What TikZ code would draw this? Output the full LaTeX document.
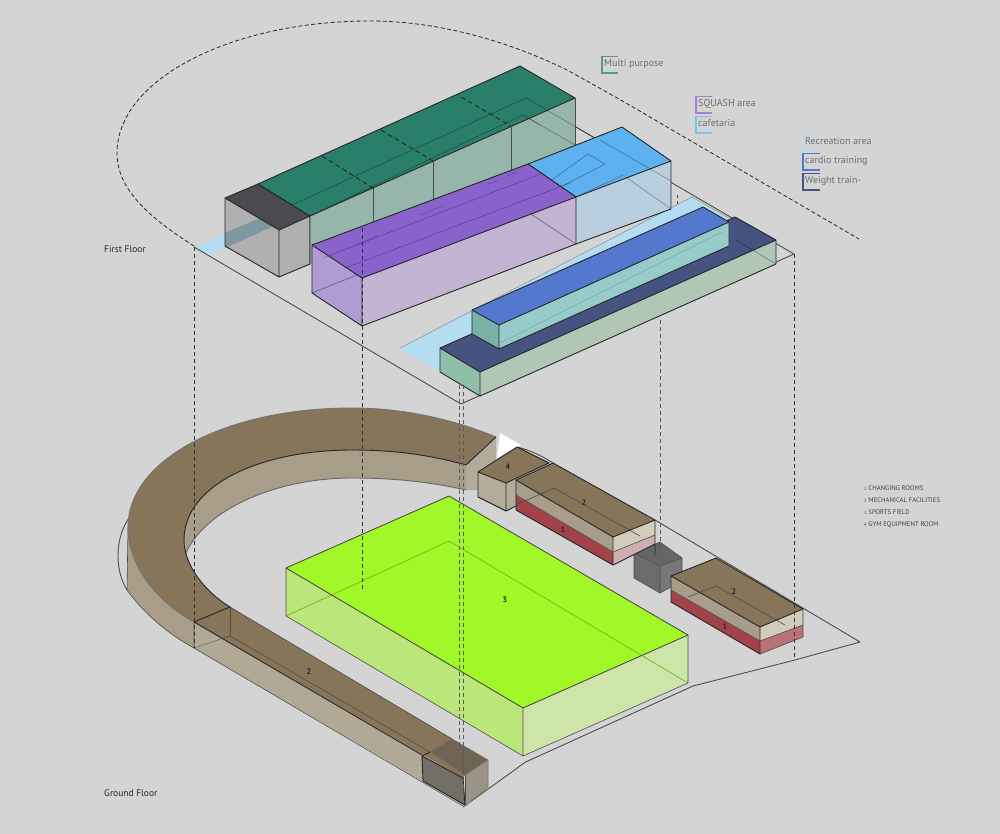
\documentclass[tikz,border=0pt]{standalone}
\usepackage{fontspec}
\setmainfont{PT Sans}
\definecolor{bgc}{HTML}{D4D4D4}
\definecolor{tan}{HTML}{87755A}
\definecolor{wall}{HTML}{A79D88}
\definecolor{paletan}{HTML}{D2CCBD}
\definecolor{redc}{HTML}{A2424A}
\definecolor{pinkc}{HTML}{CFAEAF}
\definecolor{lime}{HTML}{A2F728}
\definecolor{limeL}{HTML}{BBE67A}
\definecolor{limeR}{HTML}{CDE5A8}
\definecolor{teal}{HTML}{2A7F6B}
\definecolor{tealS}{HTML}{97B6AB}
\definecolor{darkT}{HTML}{4A4A50}
\definecolor{greyS}{HTML}{ADADAD}
\definecolor{purp}{HTML}{8A62CC}
\definecolor{purpL}{HTML}{B09BD2}
\definecolor{purpR}{HTML}{C2B4D2}
\definecolor{sky}{HTML}{5DB1EE}
\definecolor{skyS}{HTML}{B9CFE0}
\definecolor{ice}{HTML}{B4DDF2}
\definecolor{bar}{HTML}{5578CF}
\definecolor{barS}{HTML}{97CBCA}
\definecolor{barL}{HTML}{79B1A6}
\definecolor{navy}{HTML}{465380}
\definecolor{navyS}{HTML}{B0C7B6}
\definecolor{navyL}{HTML}{8FBFA8}
\definecolor{labc}{HTML}{6E6E6E}
\tikzset{
  edge/.style={draw=black!85,line width=.9pt,line join=round},
  thin edge/.style={draw=black!70,line width=.6pt,line join=round},
  faint/.style={draw=black,draw opacity=.35,line width=.6pt},
  plate/.style={draw=black!70,line width=.9pt,line join=round},
  proj/.style={draw=black!80,line width=.8pt,dash pattern=on 4pt off 3pt},
  lab/.style={inner sep=0pt,anchor=west,text=labc,font=\fontsize{10}{12}\selectfont},
  floorlab/.style={inner sep=0pt,anchor=west,text=black!85,font=\fontsize{9.5}{11}\selectfont},
  key/.style={inner sep=0pt,anchor=west,text=black!75,font=\fontsize{6.7}{8}\selectfont},
  num/.style={inner sep=0pt,text=black!85,font=\bfseries\fontsize{8}{9}\selectfont},
  brk/.style={line width=1.1pt}
}
\begin{document}
\begin{tikzpicture}[x=1pt,y=-1pt]
\useasboundingbox (0,0) rectangle (1000,834);
\fill[bgc] (0,0) rectangle (1000,834);

% big dashed outline
\draw[draw=black!85,line width=.8pt,dash pattern=on 4pt off 2.5pt]
  (194,246) .. controls (150,218) and (117,190) .. (117,153)
  .. controls (117,80) and (230,21) .. (370,21)
  .. controls (440,21) and (510,42) .. (567,70)
  .. controls (600,88) and (640,111) .. (667,127) -- (859,239);

% ---------- ground plate
\draw[plate] (131,515) .. controls (120,530) and (118,545) .. (118,556)
  .. controls (118,570) and (122,582) .. (127,590);
\draw[plate] (463,807) -- (516,769) .. controls (521,765) and (525,762) .. (530,760)
  -- (693,686) -- (795,660) -- (860,642) -- (655,520);
\draw[plate] (517,447) .. controls (530,450) and (542,456) .. (553,463);
\fill[white] (500,433) -- (521,445) -- (497,458) -- cycle;

% ---------- ring
\coordinate (ra) at (194,622);
\coordinate (rb) at (230,607);
\fill[wall] (466,465) .. controls (430,455) and (395,450) .. (352,450)
  .. controls (260,450) and (184,485) .. (184,540)
  -- (186,553) .. controls (205,510) and (275,478) .. (352,478)
  .. controls (395,478) and (430,482) .. (466,490) -- cycle;
\draw[draw=black!60,line width=.9pt] (186,553) .. controls (205,510) and (275,478) .. (352,478)
  .. controls (395,478) and (430,482) .. (466,490);
% end wall
\fill[fill=wall!85!white] (466,465) -- (496,437) -- (496,462) -- (478,472) -- (478,490) -- (466,490) -- cycle;
% outer wall
\fill[wall] (128,527) -- (127,590) .. controls (145,615) and (170,635) .. (194,648) -- (194,622)
  .. controls (155,600) and (128,565) .. (128,527) -- cycle;
\draw[thin edge] (128,527) -- (127,590) .. controls (145,615) and (170,635) .. (194,648);
% corridor walls
\fill[wall!88!white] (194,622) -- (463,778) -- (465,806) -- (194,648) -- cycle;
\fill[wall!88!white] (465,775) -- (488,760) -- (488,787) -- (465,806) -- cycle;
% corridor + ring top
\fill[tan] (ra) .. controls (155,600) and (128,565) .. (128,527)
  .. controls (128,460) and (225,408) .. (352,408)
  .. controls (405,408) and (455,420) .. (496,437)
  -- (466,465) .. controls (430,455) and (395,450) .. (352,450)
  .. controls (260,450) and (184,485) .. (184,540)
  .. controls (184,565) and (205,592) .. (rb) -- cycle;
\fill[tan] (ra) -- (rb) -- (488,760) -- (465,775) -- (463,778) -- cycle;
\draw[draw=black!55,line width=.9pt] (ra) .. controls (155,600) and (128,565) .. (128,527)
  .. controls (128,460) and (225,408) .. (352,408)
  .. controls (405,408) and (455,420) .. (496,437);
\draw[edge] (496,437) -- (466,465) .. controls (430,455) and (395,450) .. (352,450)
  .. controls (260,450) and (184,485) .. (184,540)
  .. controls (184,565) and (205,592) .. (rb) -- (ra);
\draw[thin edge] (rb) -- (452,739);
\draw[edge] (ra) -- (422,755);
\draw[thin edge] (ra) -- (194,648) -- (463,806);
\draw[faint] (194,648) -- (230,636) -- (430,752);
\draw[faint] (230,607) -- (230,636);
% corridor end grey box
\fill[fill=black!70,fill opacity=.4] (430,752) -- (452,739) -- (488,760) -- (465,775) -- cycle;
\fill[fill=black!60,fill opacity=.3] (465,775) -- (488,760) -- (488,787) -- (465,806) -- cycle;
\draw[thin edge,draw=black!55] (452,739) -- (488,760) -- (465,775) -- (430,752);
\draw[thin edge,draw=black!55] (488,760) -- (488,787) -- (465,806);
\fill[fill=black!75,fill opacity=.55] (422,756) -- (463,778) -- (465,805) -- (423,781) -- cycle;
\draw[edge] (422,756) -- (430,752) (422,756) -- (463,778) -- (465,805) -- (423,781) -- cycle;
\draw[thin edge] (465,775) -- (465,805);

% ---------- sports field
\fill[limeL] (286,568) -- (523,708) -- (523,756) -- (286,616) -- cycle;
\fill[limeR] (523,708) -- (688,635) -- (688,683) -- (523,756) -- cycle;
\fill[lime] (286,568) -- (449,496) -- (688,635) -- (523,708) -- cycle;
\draw[draw=lime!72!black,line width=.7pt] (286,616) -- (449,541) -- (688,683);
\draw[draw=black!75,line width=.8pt,line join=round] (286,568) -- (449,496) -- (688,635) -- (523,708) -- cycle;
\draw[thin edge] (286,568) -- (286,616) -- (523,756) -- (688,683) -- (688,635) (523,708) -- (523,756);

% ---------- building 4
\fill[wall!85!white] (478,472) -- (506,483) -- (506,511) -- (478,497) -- cycle;
\fill[wall!85!white] (506,483) -- (516,479) -- (516,506) -- (506,511) -- cycle;
\fill[tan] (478,472) -- (517,447) -- (549,463) -- (506,483) -- cycle;
\draw[edge] (478,472) -- (517,447) -- (549,463) -- (506,483) -- cycle (478,472) -- (478,497) -- (506,511) -- (506,483) (506,511) -- (516,506);

% ---------- dark cube
\fill[fill=black!75,fill opacity=.75] (634,553) -- (660,542) -- (682,558) -- (660,566) -- cycle;
\fill[fill=black!75,fill opacity=.7] (634,553) -- (660,566) -- (660,593) -- (634,578) -- cycle;
\fill[fill=black!70,fill opacity=.68] (660,566) -- (682,558) -- (682,581) -- (660,593) -- cycle;
\draw[thin edge] (634,553) -- (660,542) -- (682,558) -- (660,566) -- cycle
  (634,553) -- (634,578) -- (660,593) -- (682,581) -- (682,558) (660,566) -- (660,593);

% ---------- building 2 north
\fill[redc] (516,495) -- (613,552) -- (613,565) -- (516,510) -- cycle;
\fill[wall] (516,480) -- (613,537) -- (613,552) -- (516,495) -- cycle;
\fill[paletan] (613,537) -- (655,520) -- (655,535) -- (613,552) -- cycle;
\fill[pinkc] (613,552) -- (655,535) -- (655,544) -- (613,565) -- cycle;
\fill[tan] (516,480) -- (553,463) -- (655,520) -- (613,537) -- cycle;
\draw[thin edge] (516,505) -- (554,488) -- (640,536);
\draw[edge] (516,480) -- (553,463) -- (655,520) -- (613,537) -- cycle
  (516,480) -- (516,510) -- (613,565) -- (613,537) (613,565) -- (655,544) (655,520) -- (655,555);
\draw[thin edge] (516,495) -- (613,552) -- (655,535);

% ---------- building 2 south
\fill[redc] (671,590) -- (760,641) -- (760,654) -- (671,602) -- cycle;
\fill[wall] (671,576) -- (760,627) -- (760,641) -- (671,590) -- cycle;
\fill[paletan] (760,627) -- (803,609) -- (803,625) -- (760,641) -- cycle;
\fill[fill=redc!75!white] (760,641) -- (803,625) -- (803,637) -- (760,654) -- cycle;
\fill[tan] (671,576) -- (716,558) -- (803,609) -- (760,627) -- cycle;
\draw[thin edge] (688,597) -- (716,586) -- (785,625);
\draw[edge] (671,576) -- (716,558) -- (803,609) -- (760,627) -- cycle
  (671,576) -- (671,602) -- (760,654) -- (760,627);
\draw[thin edge] (671,590) -- (760,641) -- (803,625) (803,609) -- (803,637) -- (760,654);

% ---------- first floor plate
\fill[ice] (194,247) -- (260,218) -- (272,227) -- (208,255) -- cycle;
\fill[ice] (400,348) -- (692,197) -- (729,218) -- (440,372) -- cycle;
\draw[plate] (526,98) -- (794,254) -- (461,404) -- (194,247);
\draw[draw=black!45,line width=.5pt] (400,348) -- (692,197) -- (729,218);

% grey box
\fill[fill=greyS,fill opacity=.9] (225,198) -- (279,230) -- (279,277) -- (225,246) -- cycle;
\fill[fill=greyS,fill opacity=.9] (279,230) -- (310,216) -- (310,264) -- (279,277) -- cycle;
\fill[fill=ice!65!black,fill opacity=.8] (225,233) -- (260,218) -- (272,227) -- (225,248) -- cycle;
\fill[darkT] (225,198) -- (258,184) -- (310,216) -- (279,230) -- cycle;
\draw[edge] (225,198) -- (258,184) -- (310,216) -- (279,230) -- cycle
  (225,198) -- (225,246) -- (279,277) -- (310,264) -- (310,216) (279,230) -- (279,277);

% green block
\fill[tealS] (310,216) -- (575,98) -- (575,160) -- (310,264) -- cycle;
\draw[faint] (523,115) -- (575,145);
\fill[teal] (258,184) -- (520,66) -- (575,98) -- (310,216) -- cycle;
\draw[draw=black,draw opacity=.35,line width=.6pt] (292,205) -- (526,98) -- (600,141)
  (310,216) -- (523,115) -- (540,125);
\draw[edge] (258,184) -- (520,66) -- (575,98) -- (310,216) -- cycle (310,216) -- (310,264);
\draw[thin edge] (575,98) -- (575,145) (373,188) -- (373,225) (433,161) -- (433,200) (511,126) -- (511,170);
\draw[edge,dash pattern=on 5pt off 3pt] (322,156) -- (373,188) (381,130) -- (433,161) (461,97) -- (511,126);

% blue (cafeteria)
\fill[skyS] (576,197) -- (671,161) -- (671,209) -- (576,244) -- cycle;
\draw[faint] (623,175) -- (671,209);
\fill[sky] (528,164) -- (622,127) -- (671,161) -- (576,197) -- cycle;
\draw[faint] (535,192) -- (588,154) -- (605,164) -- (545,195) (576,197) -- (623,175);
\draw[faint] (600,140) -- (671,181);
\draw[edge] (528,164) -- (622,127) -- (671,161) -- (576,197) -- cycle (671,161) -- (671,209) -- (576,244);
\draw[draw=black!70,line width=.5pt,dash pattern=on 3pt off 3pt] (677,195) -- (677,205);

% purple
\fill[purpL] (312,245) -- (362,278) -- (362,326) -- (312,293) -- cycle;
\fill[purpR] (362,278) -- (576,197) -- (576,244) -- (362,326) -- cycle;
\draw[draw=black,draw opacity=.45,line width=.6pt] (312,293) -- (362,273) (528,212) -- (576,244);
\fill[purp] (312,245) -- (528,164) -- (576,197) -- (362,278) -- cycle;
\draw[draw=black,draw opacity=.3,line width=.6pt] (323,258) -- (543,173) (345,268) -- (570,183);
\draw[draw=black,draw opacity=.25,line width=.6pt] (357,245) -- (378,235) (420,215) -- (442,206) (487,184) -- (497,181) (507,176) -- (517,172);
\draw[edge] (312,245) -- (528,164) -- (576,197) -- (362,278) -- cycle
  (312,245) -- (312,293) -- (362,326) -- (576,244) -- (576,197) (362,278) -- (362,326);

% navy bar
\fill[navyL] (440,348) -- (480,372) -- (480,396) -- (440,372) -- cycle;
\fill[navyS] (480,372) -- (776,240) -- (776,264) -- (480,396) -- cycle;
\fill[navy] (440,348) -- (735,217) -- (776,240) -- (480,372) -- cycle;
\draw[draw=black,draw opacity=.4,line width=.6pt] (736,240) -- (776,264);
\draw[edge] (440,348) -- (735,217) -- (776,240) -- (480,372) -- cycle
  (440,348) -- (440,372) -- (480,396) -- (776,264) -- (776,240) (480,372) -- (480,396);

% blue bar
\fill[barL] (472,310) -- (499,325) -- (499,349) -- (472,334) -- cycle;
\fill[barS] (499,325) -- (729,222) -- (729,246) -- (499,349) -- cycle;
\fill[bar] (472,310) -- (703,207) -- (729,222) -- (499,325) -- cycle;
\draw[draw=black,draw opacity=.18,line width=.6pt] (500,343) -- (722,232);
\draw[edge] (472,310) -- (703,207) -- (729,222) -- (499,325) -- cycle
  (472,310) -- (472,334) -- (499,349) -- (729,246) -- (729,222) (499,325) -- (499,349);

% ---------- projection lines
\coordinate (p1t) at (194,247); \coordinate (p1b) at (194,648);
\coordinate (p2t) at (362,228); \coordinate (p2b) at (362,591);
\coordinate (p3t) at (459,385); \coordinate (p3b) at (459,750);
\coordinate (p4t) at (463,385); \coordinate (p4b) at (463,800);
\coordinate (p5t) at (660,320); \coordinate (p5b) at (660,556);
\coordinate (p6t) at (794,254); \coordinate (p6b) at (794,660);
\draw[proj] (p1t) -- (p1b);
\draw[proj] (p2t) -- (p2b);
\draw[proj,draw=black!65] (p3t) -- (p3b);
\draw[proj,draw=black!65] (p4t) -- (p4b);
\draw[proj,draw=black!65] (p5t) -- (p5b);
\draw[proj] (p6t) -- (p6b);

% ---------- numbers
\node[num] (n1) at (309,672) {2};
\node[num] (n2) at (505,600) {3};
\node[num] (n3) at (508,467) {4};
\node[num] (n4) at (584,503) {2};
\node[num] (n5) at (563,530) {1};
\node[num] (n6) at (734,592) {2};
\node[num] (n7) at (725,627) {1};

% ---------- labels
\node[floorlab] (ff) at (104,249) {First Floor};
\node[floorlab] (gf) at (104,793) {Ground Floor};

\draw[brk,draw=teal!80!white] (618,56.5) -- (602,56.5) -- (602,73) -- (618,73);
\node[lab] (l1) at (604,64) {Multi purpose};
\draw[brk,draw=purp!80!white] (712,96.5) -- (696,96.5) -- (696,113) -- (712,113);
\node[lab] (l2) at (698,104) {SQUASH area};
\draw[brk,draw=sky!80!white] (712,116.5) -- (696,116.5) -- (696,133) -- (712,133);
\node[lab] (l3) at (698,123.5) {cafetaria};
\draw[brk,draw=ice!60!bgc] (820,133.5) -- (803,133.5) -- (803,150) -- (820,150);
\node[lab] (l4) at (805,141) {Recreation area};
\draw[brk,draw=bar] (820,153.5) -- (803,153.5) -- (803,170) -- (820,170);
\node[lab] (l5) at (805,161) {cardio training};
\draw[brk,draw=navy] (820,173.5) -- (803,173.5) -- (803,190) -- (820,190);
\node[lab] (l6) at (805,181.5) {Weight train-};

\node[key] (k1) at (864,488) {{\fontsize{4.5}{5}\selectfont 1} CHANGING ROOMS};
\node[key] (k2) at (864,500) {{\fontsize{4.5}{5}\selectfont 2} MECHANICAL FACILITIES};
\node[key] (k3) at (864,512.5) {{\fontsize{4.5}{5}\selectfont 3} SPORTS FIELD};
\node[key] (k4) at (864,525) {{\fontsize{4.5}{5}\selectfont 4} GYM EQUIPMENT ROOM};
\end{tikzpicture}
\end{document}
